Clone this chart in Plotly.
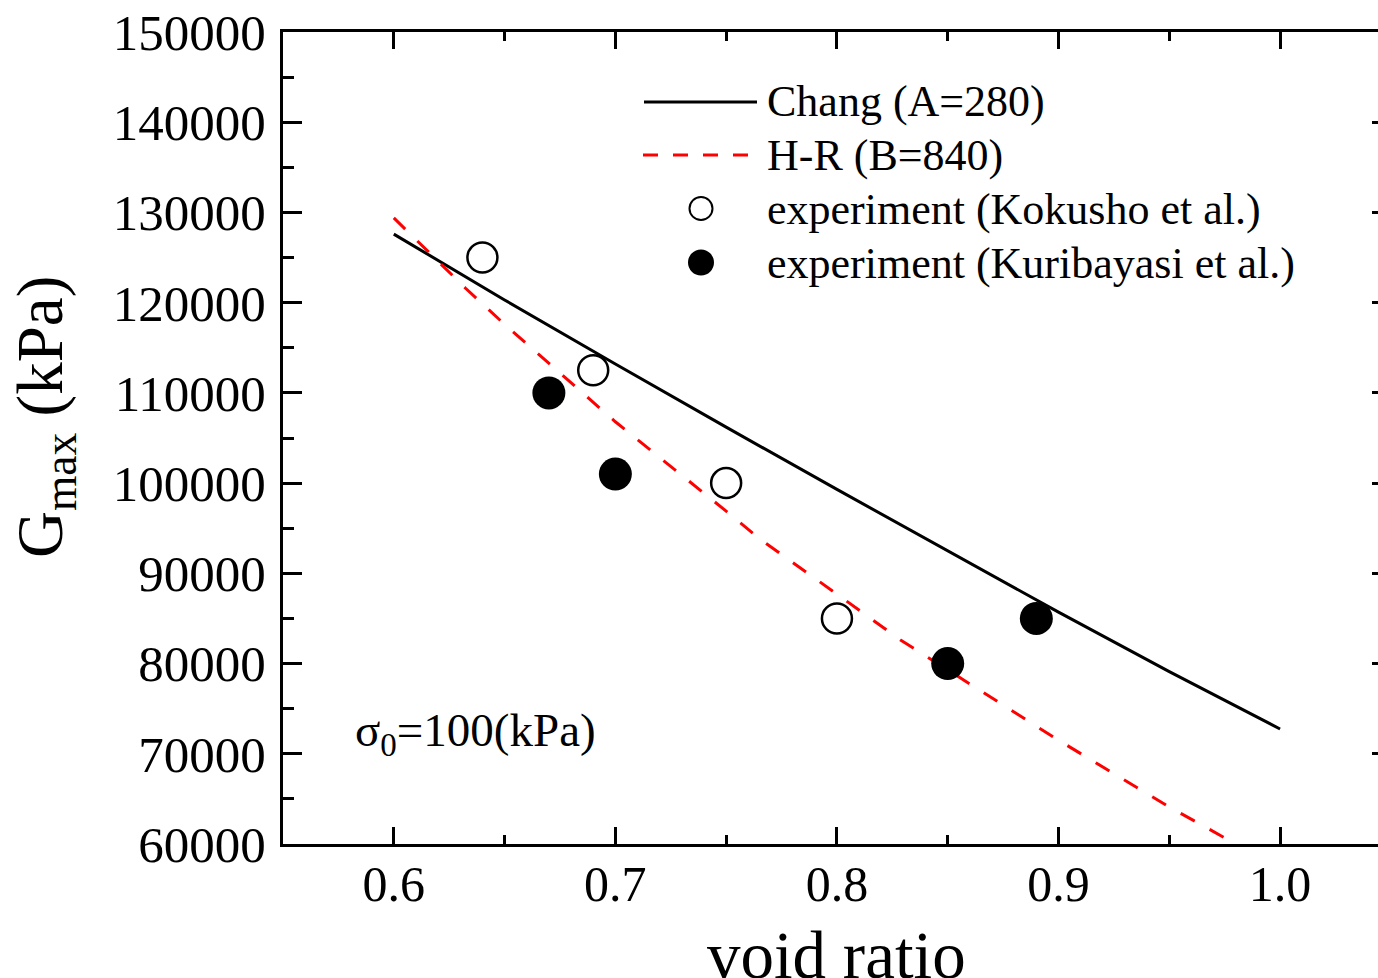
import plotly.graph_objects as go

# ---- data ----
chang_e = [0.60, 0.65, 0.70, 0.75, 0.80, 0.85, 0.90, 0.95, 1.00]
chang_g = [127600, 120300, 113200, 106200, 99300, 92500, 85700, 79100, 72750]

hr_e = [0.60, 0.6324, 0.65, 0.6931, 0.70, 0.75, 0.7654, 0.80, 0.8287, 0.85, 0.90, 0.95, 0.98]
hr_g = [129400, 121600, 117600, 108250, 106800, 96900, 93770, 87700, 82610, 79300, 71500, 64100, 60000]

kok_e = [0.64, 0.69, 0.75, 0.80]
kok_g = [125000, 112500, 100000, 85000]

kur_e = [0.67, 0.70, 0.85, 0.89]
kur_g = [110000, 101000, 80000, 85000]

x_ticks = [0.6, 0.7, 0.8, 0.9, 1.0]
x_ticklabels = ["0.6", "0.7", "0.8", "0.9", "1.0"]
y_ticks = [60000, 70000, 80000, 90000, 100000, 110000, 120000, 130000, 140000, 150000]
y_ticklabels = ["60000", "70000", "80000", "90000", "100000", "110000",
                "120000", "130000", "140000", "150000"]

legend_labels = ["Chang (A=280)", "H-R (B=840)",
                 "experiment (Kokusho et al.)", "experiment (Kuribayasi et al.)"]

FONT = "Liberation Serif, Times New Roman, serif"
W, H = 1378, 978
L, R, T, B = 283, 0, 32, 134
PW, PH = W - L - R, H - T - B
XR = [0.55, 1.0442]
YR = [60000, 150000]


def PX(px):
    return (px - L) / PW


def PY(py):
    return (H - B - py) / PH


fig = go.Figure()
fig.add_trace(go.Scatter(x=chang_e, y=chang_g, mode="lines",
                         line=dict(color="black", width=3), showlegend=False))
fig.add_trace(go.Scatter(x=hr_e, y=hr_g, mode="lines",
                         line=dict(color="#ff0000", width=3, dash="16px,17px"),
                         showlegend=False))
fig.add_trace(go.Scatter(x=kok_e, y=kok_g, mode="markers",
                         marker=dict(symbol="circle", size=30, color="white",
                                     line=dict(color="black", width=2.5)),
                         showlegend=False))
fig.add_trace(go.Scatter(x=kur_e, y=kur_g, mode="markers",
                         marker=dict(symbol="circle", size=33, color="black",
                                     line=dict(color="black", width=0)),
                         showlegend=False))
# empty trace to carry the right-hand tick axis
fig.add_trace(go.Scatter(x=[], y=[], yaxis="y2", showlegend=False, hoverinfo="skip"))

# ---- manual legend ----
shapes = [
    dict(type="line", xref="paper", yref="paper", x0=PX(644), x1=PX(757), y0=PY(102), y1=PY(102),
         line=dict(color="black", width=3)),
    dict(type="line", xref="paper", yref="paper", x0=PX(643), x1=PX(750), y0=PY(155), y1=PY(155),
         line=dict(color="#ff0000", width=3, dash="15px,15px")),
    dict(type="circle", xref="paper", yref="paper", x0=PX(701 - 11.5), x1=PX(701 + 11.5),
         y0=PY(208.5 - 11.5), y1=PY(208.5 + 11.5), line=dict(color="black", width=2), fillcolor="white"),
    dict(type="circle", xref="paper", yref="paper", x0=PX(701 - 13), x1=PX(701 + 13),
         y0=PY(262.5 - 13), y1=PY(262.5 + 13), line=dict(color="black", width=0), fillcolor="black"),
]
annotations = []
for lab, yy in zip(legend_labels, [102, 155, 209, 263]):
    annotations.append(dict(text=lab, xref="paper", yref="paper", x=PX(765), y=PY(yy),
                            xanchor="left", yanchor="middle", showarrow=False,
                            font=dict(family=FONT, size=44, color="black")))

annotations.append(dict(text="σ<sub><span style='font-size:33px'>0</span></sub>=100(kPa)",
                        xref="paper", yref="paper",
                        x=PX(353), y=PY(733), xanchor="left", yanchor="middle", showarrow=False,
                        font=dict(family=FONT, size=47, color="black")))
annotations.append(dict(text="G<sub>max</sub> (kPa)", xref="paper", yref="paper",
                        x=PX(45), y=PY(417), xanchor="center", yanchor="middle", textangle=-90,
                        showarrow=False, font=dict(family=FONT, size=65, color="black")))
annotations.append(dict(text="void ratio", xref="paper", yref="paper",
                        x=PX(836), y=PY(955), xanchor="center", yanchor="middle",
                        showarrow=False, font=dict(family=FONT, size=67, color="black")))

fig.update_layout(
    width=W, height=H,
    margin=dict(l=L, r=R, t=T, b=B, pad=0),
    paper_bgcolor="white", plot_bgcolor="white",
    showlegend=False,
    shapes=shapes, annotations=annotations,
    xaxis=dict(range=XR, tickvals=x_ticks, ticktext=x_ticklabels, automargin=False,
               showgrid=False, zeroline=False,
               showline=True, linecolor="black", linewidth=3, mirror="ticks",
               ticks="inside", ticklen=17, tickwidth=3, tickcolor="black",
               minor=dict(dtick=0.05, ticks="inside", ticklen=9, tickwidth=3, tickcolor="black"),
               tickfont=dict(family=FONT, size=50, color="black"), ticklabelstandoff=-6),
    yaxis=dict(range=YR, tickvals=y_ticks, ticktext=y_ticklabels, automargin=False,
               showgrid=False, zeroline=False,
               showline=True, linecolor="black", linewidth=3, mirror=False,
               ticks="inside", ticklen=19, tickwidth=3, tickcolor="black",
               minor=dict(dtick=5000, ticks="inside", ticklen=11, tickwidth=3, tickcolor="black"),
               tickfont=dict(family=FONT, size=51, color="black"), ticklabelstandoff=4),
    yaxis2=dict(range=YR, overlaying="y", side="right", tickvals=y_ticks, automargin=False,
                showgrid=False, zeroline=False, showline=False, showticklabels=False,
                ticks="inside", ticklen=6, tickwidth=3, tickcolor="black"),
)

fig.write_html("out.html", config={"displayModeBar": False},
               post_script="document.body.style.margin='0';")
